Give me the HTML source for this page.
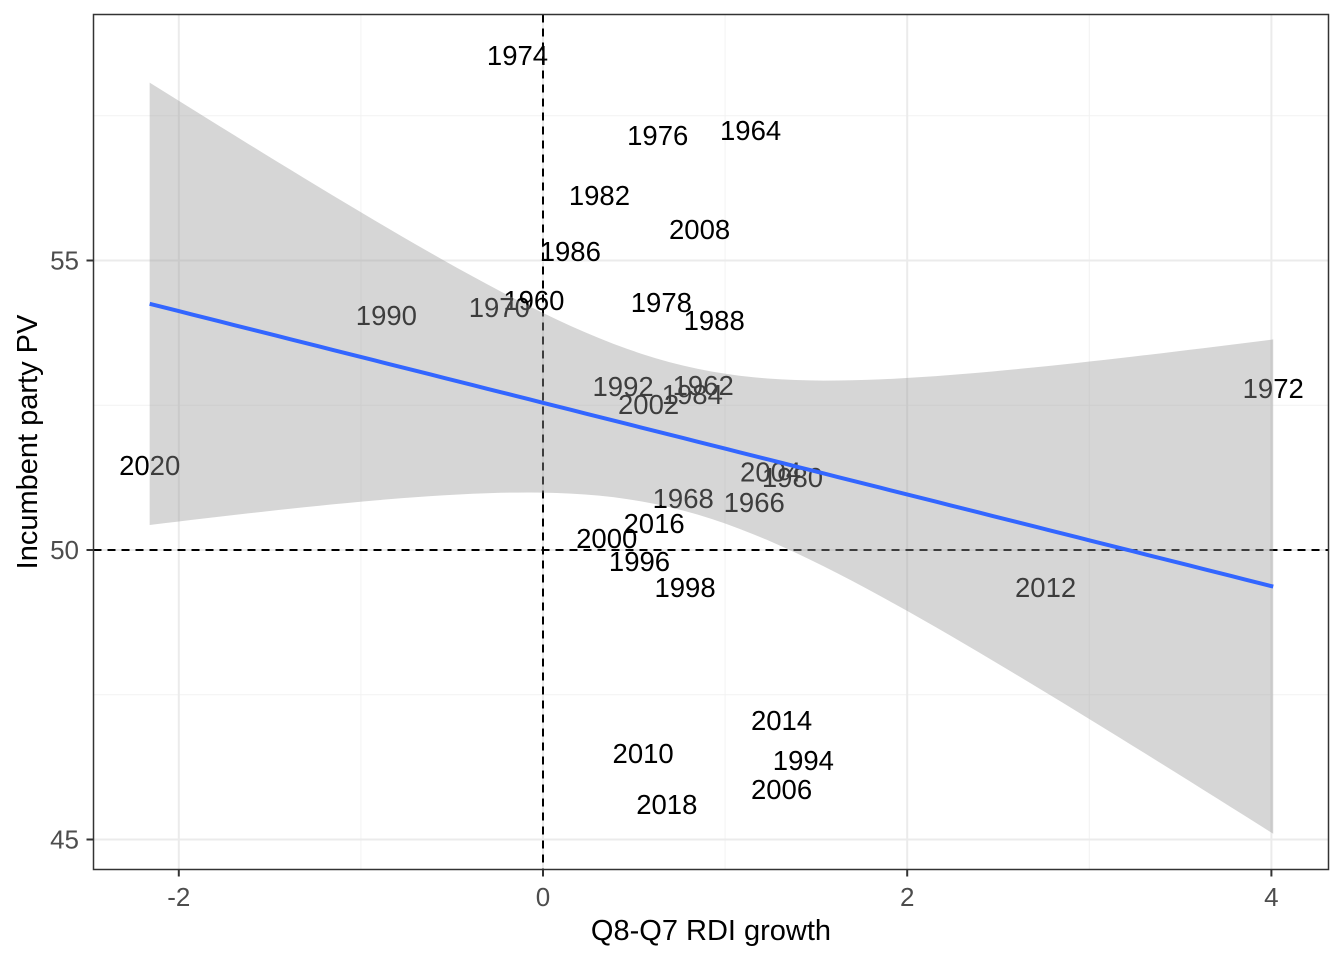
<!DOCTYPE html>
<html><head><meta charset="utf-8">
<style>
html,body{margin:0;padding:0;background:#fff;}
svg{display:block;font-family:"Liberation Sans",Arial,sans-serif;}
</style></head>
<body>
<svg id="chart" width="1344" height="960" viewBox="0 0 1344 960"></svg>
<script>
const years = ["1974","1976","1964","1982","2008","1986","1960","1970","1990","1978","1988","1992","1962","1984","2002","1972","2020","2004","1980","1968","1966","2016","2000","1996","1998","2012","2014","2010","1994","2006","2018"];
const rdiGrowth = [-0.14,0.63,1.14,0.31,0.86,0.15,-0.05,-0.24,-0.86,0.65,0.94,0.44,0.88,0.82,0.58,4.01,-2.16,1.25,1.37,0.77,1.16,0.61,0.35,0.53,0.78,2.76,1.31,0.55,1.43,1.31,0.68];
const incumbentPV = [58.55,57.17,57.25,56.13,55.54,55.16,54.32,54.20,54.06,54.28,53.97,52.83,52.85,52.69,52.52,52.80,51.47,51.36,51.26,50.90,50.83,50.47,50.21,49.81,49.36,49.36,47.06,46.49,46.37,45.87,45.61];
const xTicks = [-2,0,2,4];
const yTicks = [45,50,55];
const xMinor = [-1,1,3];
const yMinor = [47.5,52.5,57.5];

const NS="http://www.w3.org/2000/svg";
const svg=document.getElementById('chart');
const P={l:93.5,r:1328.5,t:14.5,b:869.5};
function sx(v){return 543+(v-0)*182.1;}
function sy(v){return 550-(v-50)*57.9;}
function mk(tag,attrs,parent){const e=document.createElementNS(NS,tag);for(const k in attrs)e.setAttribute(k,attrs[k]);(parent||svg).appendChild(e);return e;}

const grid=mk('g',{});


xMinor.forEach(v=>mk('line',{x1:sx(v),x2:sx(v),y1:P.t,y2:P.b,stroke:'#f2f2f2','stroke-width':1},grid));
yMinor.forEach(v=>mk('line',{x1:P.l,x2:P.r,y1:sy(v),y2:sy(v),stroke:'#f2f2f2','stroke-width':1},grid));
xTicks.forEach(v=>mk('line',{x1:sx(v),x2:sx(v),y1:P.t,y2:P.b,stroke:'#ebebeb','stroke-width':2},grid));
yTicks.forEach(v=>mk('line',{x1:P.l,x2:P.r,y1:sy(v),y2:sy(v),stroke:'#ebebeb','stroke-width':2},grid));

const vref=mk('line',{x1:sx(0),x2:sx(0),y1:P.t,y2:P.b,stroke:'#000','stroke-width':2,'stroke-dasharray':'8,6'});


const href=mk('line',{x1:P.l,x2:P.r,y1:sy(50),y2:sy(50),stroke:'#000','stroke-width':2,'stroke-dasharray':'8,6'});



const lbls=mk('g',{});


years.forEach((y,i)=>{
  const t=mk('text',{x:sx(rdiGrowth[i]),y:sy(incumbentPV[i])+10,'text-anchor':'middle','font-size':27.5,fill:'#000'},lbls);
  t.textContent=y;
  
  
});

const n=rdiGrowth.length;
const mx=rdiGrowth.reduce((a,b)=>a+b,0)/n, my=incumbentPV.reduce((a,b)=>a+b,0)/n;
let sxx=0,sxy=0;for(let i=0;i<n;i++){sxx+=(rdiGrowth[i]-mx)**2;sxy+=(rdiGrowth[i]-mx)*(incumbentPV[i]-my);}
const b1=sxy/sxx,b0=my-b1*mx;
let sse=0;for(let i=0;i<n;i++){sse+=(incumbentPV[i]-b0-b1*rdiGrowth[i])**2;}
const s=Math.sqrt(sse/(n-2)), tq=2.045;
const xmin=Math.min(...rdiGrowth), xmax=Math.max(...rdiGrowth);
const up=[],lo=[],mid=[];
for(let k=0;k<=80;k++){
  const x=xmin+(xmax-xmin)*k/80, f=b0+b1*x;
  const se=s*Math.sqrt(1/n+(x-mx)**2/sxx);
  up.push(sx(x)+','+sy(f+tq*se)); lo.push(sx(x)+','+sy(f-tq*se)); mid.push(sx(x)+','+sy(f));
}
const band=mk('polygon',{points:up.concat(lo.reverse()).join(' '),fill:'#999999','fill-opacity':0.4});


const fit=mk('polyline',{points:mid.join(' '),fill:'none',stroke:'#3366ff','stroke-width':4});



const border=mk('rect',{x:P.l,y:P.t,width:P.r-P.l,height:P.b-P.t,fill:'none',stroke:'#333','stroke-width':1.5});



const xa=mk('g',{});


xTicks.forEach(v=>{
  mk('line',{x1:sx(v),x2:sx(v),y1:P.b,y2:P.b+7,stroke:'#333','stroke-width':2},xa);
  const t=mk('text',{x:sx(v),y:906,'text-anchor':'middle','font-size':26,fill:'#4d4d4d'},xa);
  t.textContent=v;
  
  
});
const ya=mk('g',{});


yTicks.forEach(v=>{
  mk('line',{x1:P.l-7,x2:P.l,y1:sy(v),y2:sy(v),stroke:'#333','stroke-width':2},ya);
  const t=mk('text',{x:79,y:sy(v)+9,'text-anchor':'end','font-size':26,fill:'#4d4d4d'},ya);
  t.textContent=v;
  
  
});
const xt=mk('text',{x:711,y:940,'text-anchor':'middle','font-size':29,fill:'#000'});
xt.textContent='Q8-Q7 RDI growth';


const yt=mk('text',{x:0,y:0,'text-anchor':'middle','font-size':29,fill:'#000',transform:'translate(37,442) rotate(-90)'});
yt.textContent='Incumbent party PV';


</script>
</body></html>
